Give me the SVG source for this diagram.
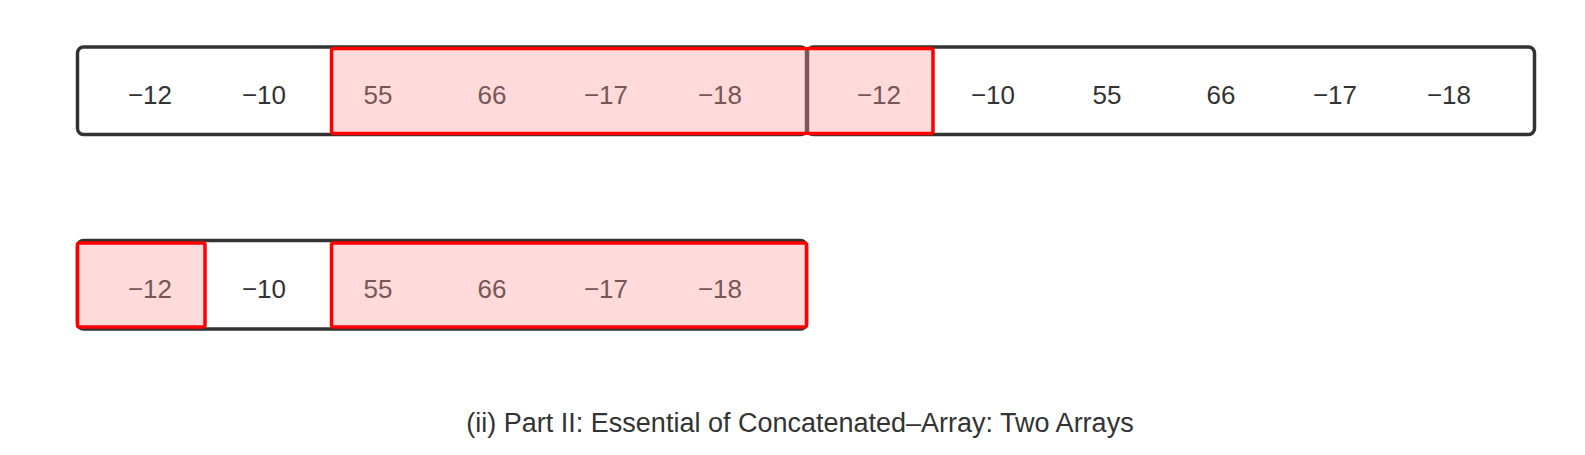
<svg xmlns="http://www.w3.org/2000/svg" width="1585" height="455" viewBox="0 0 1585 455">
<style>
.arr{fill:#fff;stroke:#333;stroke-width:3.5}
.hl{fill:#FFDADA;stroke:none}
.hlb{fill:none;stroke:#FF0000;stroke-width:3.5}
.n{font-family:"Liberation Sans",Arial,sans-serif;font-size:26px;fill:#333;text-anchor:middle}
.h{fill:#785656}
.cap{font-family:"Liberation Sans",Arial,sans-serif;font-size:27px;fill:#333;text-anchor:middle}
</style>
<rect width="1585" height="455" fill="#fff"/>
<g id="array-top-left">
<rect class="arr" x="77.5" y="47" width="729" height="87.5" rx="6"/>
</g>
<g id="array-top-right">
<rect class="arr" x="807.5" y="47" width="727" height="87.5" rx="6"/>
</g>
<g id="array-bottom">
<rect class="arr" x="77.5" y="240.5" width="729" height="88.5" rx="6"/>
</g>
<g id="highlight-fills">
<rect class="hl" x="331.5" y="48.5" width="475.5" height="85"/>
<rect class="hl" x="807" y="48.5" width="126" height="85"/>
<rect class="hl" x="77.5" y="243" width="127.5" height="84"/>
<rect class="hl" x="331.5" y="243" width="475" height="84"/>
</g>
<g id="top-values">
<text class="n" x="150" y="103.5">−12</text>
<text class="n" x="264" y="103.5">−10</text>
<text class="n h" x="378" y="103.5">55</text>
<text class="n h" x="492" y="103.5">66</text>
<text class="n h" x="606" y="103.5">−17</text>
<text class="n h" x="720" y="103.5">−18</text>
<text class="n h" x="879" y="103.5">−12</text>
<text class="n" x="993" y="103.5">−10</text>
<text class="n" x="1107" y="103.5">55</text>
<text class="n" x="1221" y="103.5">66</text>
<text class="n" x="1335" y="103.5">−17</text>
<text class="n" x="1449" y="103.5">−18</text>
</g>
<g id="bottom-values">
<text class="n h" x="150" y="297.5">−12</text>
<text class="n" x="264" y="297.5">−10</text>
<text class="n h" x="378" y="297.5">55</text>
<text class="n h" x="492" y="297.5">66</text>
<text class="n h" x="606" y="297.5">−17</text>
<text class="n h" x="720" y="297.5">−18</text>
</g>
<g id="highlight-borders">
<rect class="hlb" x="331.5" y="48.5" width="475.5" height="85" rx="2"/>
<rect class="hlb" x="807" y="48.5" width="126" height="85" rx="2"/>
<rect class="hlb" x="77.5" y="243" width="127.5" height="84" rx="2"/>
<rect class="hlb" x="331.5" y="243" width="475" height="84" rx="2"/>
<line x1="807" y1="50.5" x2="807" y2="131.5" stroke="#7A5858" stroke-width="4.5"/>
</g>
<g id="caption">
<text class="cap" x="800" y="432">(ii) Part II: Essential of Concatenated–Array: Two Arrays</text>
</g>
</svg>
